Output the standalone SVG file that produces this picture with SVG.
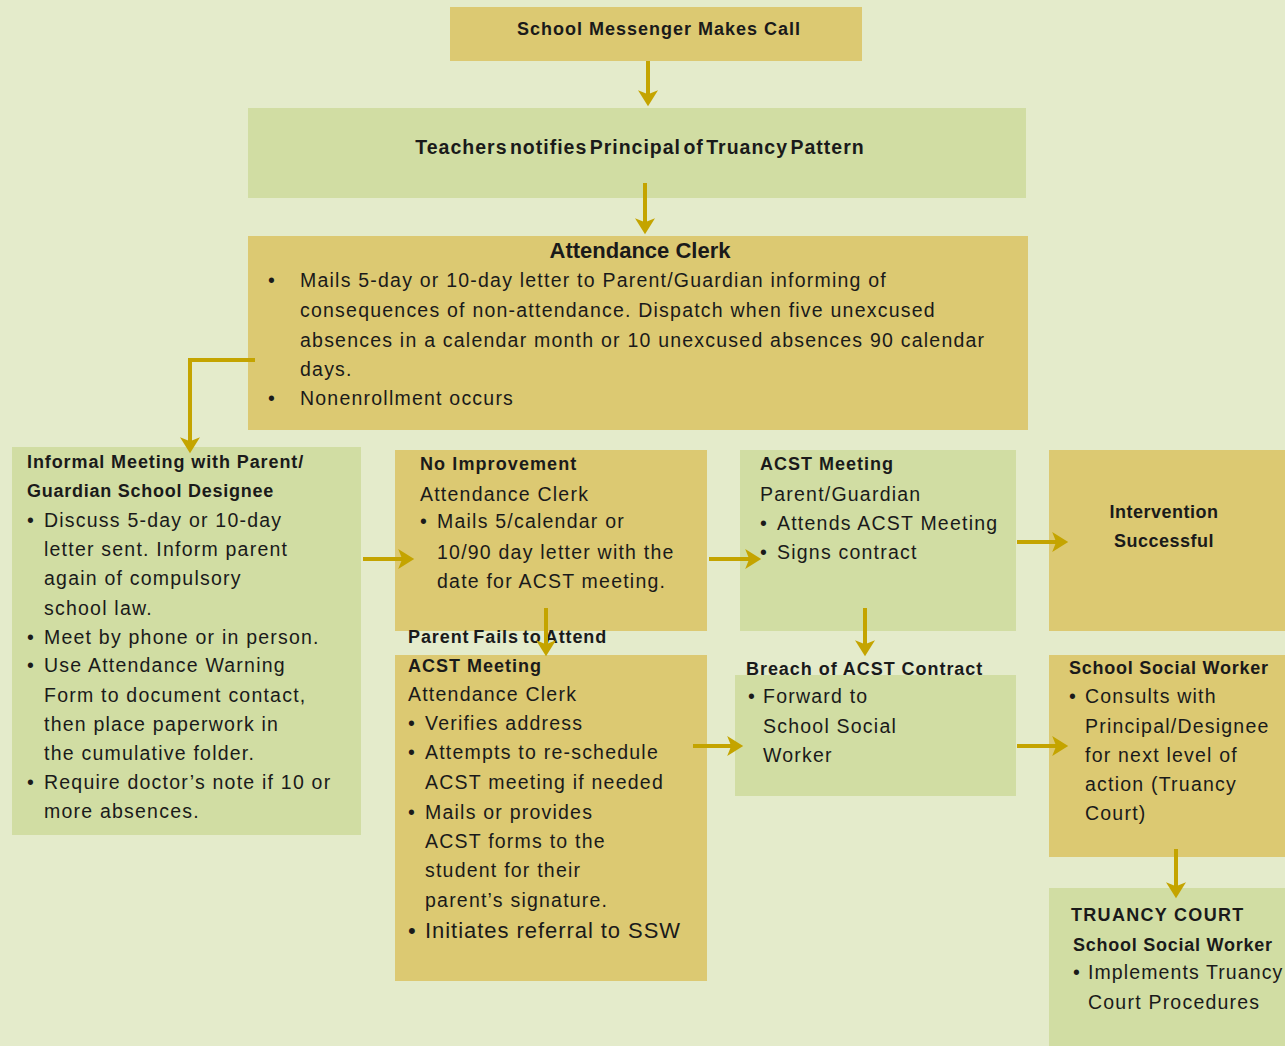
<svg xmlns="http://www.w3.org/2000/svg" width="1285" height="1046" viewBox="0 0 1285 1046">
<style>
.bg{fill:#E4EBCB}
.gold{fill:#DCC972}
.green{fill:#D1DDA3}
text{font-family:"Liberation Sans",Arial,sans-serif;fill:#1a1a1a}
.t{font-weight:bold;font-size:18px;letter-spacing:0.9px}
.b{font-size:19.5px;letter-spacing:1.22px}
.c{stroke:#C4A400;stroke-width:4;fill:none;marker-end:url(#ah)}
</style>
<defs>
<marker id="ah" markerWidth="5" markerHeight="5" refX="3.2" refY="2.5" orient="auto" markerUnits="strokeWidth">
<path d="M0,0 L4,2.5 L0,5 L1,2.5 Z" fill="#C4A400"/>
</marker>
</defs>
<rect class="bg" x="0" y="0" width="1285" height="1046"/>

<g id="n1">
<rect class="gold" x="450" y="7" width="412" height="54"/>
<text class="t" x="659" y="35" text-anchor="middle" style="letter-spacing:1px">School Messenger Makes Call</text>
</g>

<g id="n2">
<rect class="green" x="248" y="108" width="778" height="90"/>
<text class="t" x="640" y="154" text-anchor="middle" style="font-size:19.5px;letter-spacing:1px;word-spacing:-4px">Teachers notifies Principal of Truancy Pattern</text>
</g>

<g id="n3">
<rect class="gold" x="248" y="236" width="780" height="194"/>
<text x="640" y="258" text-anchor="middle" style="font-weight:bold;font-size:22px">Attendance Clerk</text>
<text class="b" x="268" y="287">•</text>
<text class="b" x="300" y="287">Mails 5-day or 10-day letter to Parent/Guardian informing of</text>
<text class="b" x="300" y="317">consequences of non-attendance. Dispatch when five unexcused</text>
<text class="b" x="300" y="347">absences in a calendar month or 10 unexcused absences 90 calendar</text>
<text class="b" x="300" y="376">days.</text>
<text class="b" x="268" y="405">•</text>
<text class="b" x="300" y="405">Nonenrollment occurs</text>
</g>

<g id="n4">
<rect class="green" x="12" y="447" width="349" height="388"/>
<text class="t" x="27" y="468" style="letter-spacing:0.9px">Informal Meeting with Parent/</text>
<text class="t" x="27" y="497" style="letter-spacing:0.75px">Guardian School Designee</text>
<text class="b" x="27" y="527">•</text>
<text class="b" x="44" y="527">Discuss 5-day or 10-day</text>
<text class="b" x="44" y="556">letter sent. Inform parent</text>
<text class="b" x="44" y="585">again of compulsory</text>
<text class="b" x="44" y="615">school law.</text>
<text class="b" x="27" y="644">•</text>
<text class="b" x="44" y="644">Meet by phone or in person.</text>
<text class="b" x="27" y="672">•</text>
<text class="b" x="44" y="672">Use Attendance Warning</text>
<text class="b" x="44" y="702">Form to document contact,</text>
<text class="b" x="44" y="731">then place paperwork in</text>
<text class="b" x="44" y="760">the cumulative folder.</text>
<text class="b" x="27" y="789">•</text>
<text class="b" x="44" y="789">Require doctor’s note if 10 or</text>
<text class="b" x="44" y="818">more absences.</text>
</g>

<g id="n5">
<rect class="gold" x="395" y="450" width="312" height="181"/>
<text class="t" x="420" y="470" style="letter-spacing:1.1px">No Improvement</text>
<text class="b" x="420" y="501">Attendance Clerk</text>
<text class="b" x="420" y="528">•</text>
<text class="b" x="437" y="528">Mails 5/calendar or</text>
<text class="b" x="437" y="559">10/90 day letter with the</text>
<text class="b" x="437" y="588">date for ACST meeting.</text>
</g>

<g id="n6">
<rect class="green" x="740" y="450" width="276" height="181"/>
<text class="t" x="760" y="470" style="letter-spacing:1px">ACST Meeting</text>
<text class="b" x="760" y="501">Parent/Guardian</text>
<text class="b" x="760" y="530">•</text>
<text class="b" x="777" y="530">Attends ACST Meeting</text>
<text class="b" x="760" y="559">•</text>
<text class="b" x="777" y="559">Signs contract</text>
</g>

<g id="n7">
<rect class="gold" x="1049" y="450" width="236" height="181"/>
<text class="t" x="1164" y="518" text-anchor="middle" style="letter-spacing:0.5px">Intervention</text>
<text class="t" x="1164" y="547" text-anchor="middle" style="letter-spacing:0.5px">Successful</text>
</g>

<g id="n8">
<rect class="gold" x="395" y="655" width="312" height="326"/>
<text class="t" x="408" y="643" style="letter-spacing:0.9px;word-spacing:-2px">Parent Fails to Attend</text>
<text class="t" x="408" y="672" style="letter-spacing:1px">ACST Meeting</text>
<text class="b" x="408" y="701">Attendance Clerk</text>
<text class="b" x="408" y="730">•</text>
<text class="b" x="425" y="730">Verifies address</text>
<text class="b" x="408" y="759">•</text>
<text class="b" x="425" y="759">Attempts to re-schedule</text>
<text class="b" x="425" y="789">ACST meeting if needed</text>
<text class="b" x="408" y="819">•</text>
<text class="b" x="425" y="819">Mails or provides</text>
<text class="b" x="425" y="848">ACST forms to the</text>
<text class="b" x="425" y="877">student for their</text>
<text class="b" x="425" y="907">parent’s signature.</text>
<text x="408" y="938" style="font-size:22px">•</text>
<text x="425" y="938" style="font-size:22px;letter-spacing:0.95px">Initiates referral to SSW</text>
</g>

<g id="n9">
<rect class="green" x="735" y="675" width="281" height="121"/>
<text class="t" x="746" y="675" style="letter-spacing:0.95px">Breach of ACST Contract</text>
<text class="b" x="748" y="703">•</text>
<text class="b" x="763" y="703">Forward to</text>
<text class="b" x="763" y="733">School Social</text>
<text class="b" x="763" y="762">Worker</text>
</g>

<g id="n10">
<rect class="gold" x="1049" y="655" width="236" height="202"/>
<text class="t" x="1069" y="674" style="letter-spacing:0.75px">School Social Worker</text>
<text class="b" x="1069" y="703">•</text>
<text class="b" x="1085" y="703">Consults with</text>
<text class="b" x="1085" y="733">Principal/Designee</text>
<text class="b" x="1085" y="762">for next level of</text>
<text class="b" x="1085" y="791">action (Truancy</text>
<text class="b" x="1085" y="820">Court)</text>
</g>

<g id="n11">
<rect class="green" x="1049" y="888" width="236" height="158"/>
<text class="t" x="1071" y="921" style="letter-spacing:1.3px">TRUANCY COURT</text>
<text class="t" x="1073" y="951" style="letter-spacing:0.75px">School Social Worker</text>
<text class="b" x="1073" y="979">•</text>
<text class="b" x="1088" y="979" style="letter-spacing:1.1px">Implements Truancy</text>
<text class="b" x="1088" y="1009">Court Procedures</text>
</g>

<g id="connectors">
<path class="c" d="M648,61 V103"/>
<path class="c" d="M645,183 V231"/>
<path class="c" d="M255,360 H190 V450"/>
<path class="c" d="M363,559 H411"/>
<path class="c" d="M709,559 H758"/>
<path class="c" d="M1017,542 H1065"/>
<path class="c" d="M546,608 V653"/>
<path class="c" d="M865,608 V653"/>
<path class="c" d="M693,746 H740"/>
<path class="c" d="M1017,746 H1065"/>
<path class="c" d="M1176,849 V895"/>
</g>
</svg>
